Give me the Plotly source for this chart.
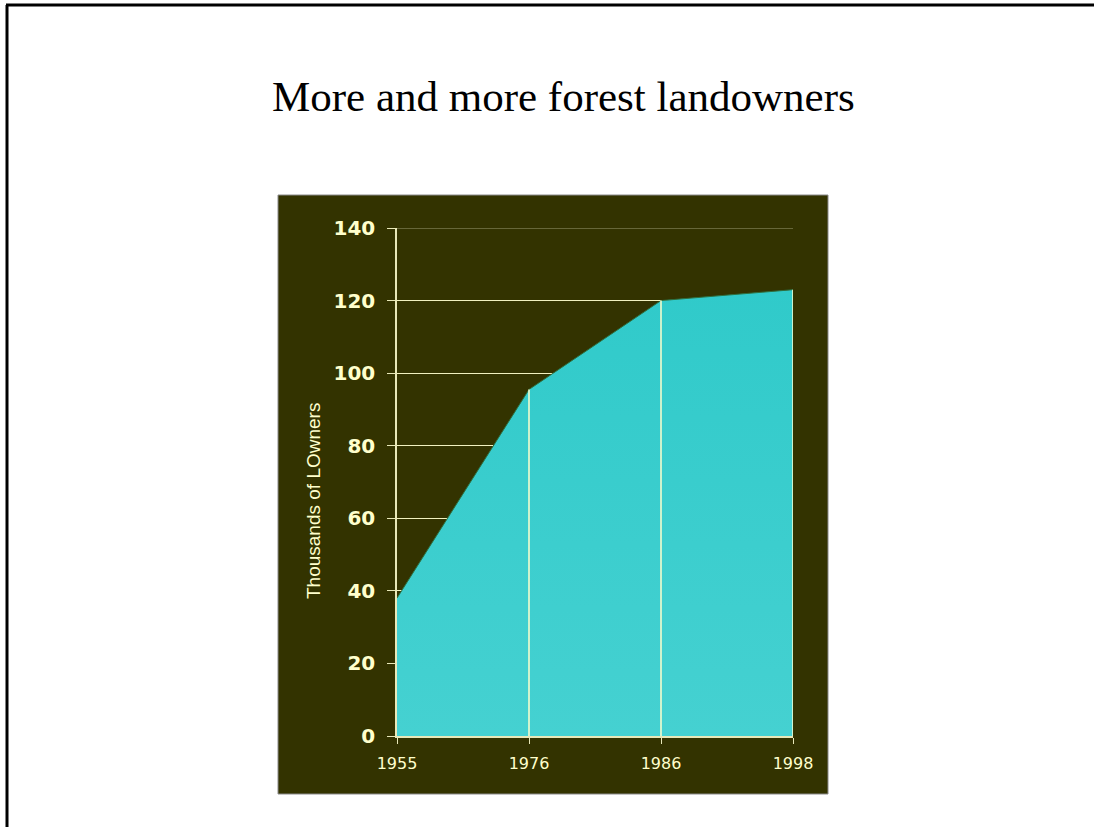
import plotly.graph_objects as go

# Data: number of forest landowners (thousands) by survey year
years = ["1955", "1976", "1986", "1998"]
owners = [38, 95.5, 120, 123]
y_ticks = [0, 20, 40, 60, 80, 100, 120, 140]

W, H = 1094, 827
# plot-area pixel box
L, R, T, B = 397, 793, 228, 736

def px_x(p):
    return (p - L) / (R - L)

def px_y(p):
    return (B - p) / (B - T)

PANEL = "#333300"
CREAM = "#FFFFCC"

fig = go.Figure()

fig.add_trace(go.Scatter(
    x=years, y=owners, mode="lines",
    line=dict(color="#2F6F3F", width=1),
    fill="tozeroy",
    fillgradient=dict(type="vertical",
                      colorscale=[[0, "#45D1D1"], [1, "#30CACA"]]),
    hoverinfo="skip", showlegend=False,
))

# drop lines from each point down to the axis
dx, dy = [], []
for yr, v in zip(years[1:], owners[1:]):
    dx += [yr, yr, None]
    dy += [0, v, None]
fig.add_trace(go.Scatter(
    x=dx, y=dy, mode="lines",
    line=dict(color=CREAM, width=1.5),
    hoverinfo="skip", showlegend=False,
))

shapes = [
    # dark chart panel
    dict(type="rect", xref="paper", yref="paper",
         x0=px_x(278), x1=px_x(828), y0=px_y(794), y1=px_y(195),
         fillcolor=PANEL, line=dict(color="#8A8A8A", width=1), layer="below"),
    # faint top gridline at the axis maximum
    dict(type="line", xref="paper", yref="y",
         x0=0, x1=1, y0=y_ticks[-1], y1=y_ticks[-1],
         line=dict(color="#7A7A4C", width=1.5), layer="below"),
    # slide frame (left and top edges)
    dict(type="line", xref="paper", yref="paper",
         x0=px_x(7), x1=px_x(7), y0=px_y(5), y1=px_y(830),
         line=dict(color="black", width=3)),
    dict(type="line", xref="paper", yref="paper",
         x0=px_x(6), x1=px_x(1096), y0=px_y(5), y1=px_y(5),
         line=dict(color="black", width=3)),
]

annotations = [
    dict(text="More and more forest landowners", xref="paper", yref="paper",
         x=px_x(563), y=px_y(96), xanchor="center", yanchor="middle",
         showarrow=False,
         font=dict(family="Liberation Serif, Times New Roman, serif",
                   size=43, color="black")),
    dict(text="Thousands of LOwners", xref="paper", yref="paper",
         x=px_x(314), y=px_y(501), xanchor="center", yanchor="middle",
         textangle=-90, showarrow=False,
         font=dict(family="Liberation Sans, Arial, sans-serif",
                   size=19, color=CREAM)),
]

fig.update_layout(
    width=W, height=H,
    margin=dict(l=L, r=W - R, t=T, b=H - B),
    paper_bgcolor="white",
    plot_bgcolor=PANEL,
    shapes=shapes,
    annotations=annotations,
    xaxis=dict(
        type="category", range=[0, len(years) - 1],
        showgrid=False, zeroline=False,
        showline=True, linecolor="#E8E8B8", linewidth=1.5,
        ticks="outside", ticklen=6, tickcolor="#E8E8B8",
        ticklabelstandoff=6,
        tickfont=dict(family="DejaVu Sans, Verdana, sans-serif",
                      size=16, color=CREAM),
    ),
    yaxis=dict(
        range=[0, 140], tickvals=y_ticks,
        showgrid=True, gridcolor="#F2F2C0", gridwidth=1,
        zeroline=False,
        showline=True, linecolor="#E8E8B8", linewidth=1.5,
        ticks="outside", ticklen=8, tickcolor="#E8E8B8",
        ticklabelstandoff=8,
        tickfont=dict(family="DejaVu Sans, Verdana, sans-serif",
                      size=20, color=CREAM, weight="bold"),
    ),
)

fig.write_html("out.html")
